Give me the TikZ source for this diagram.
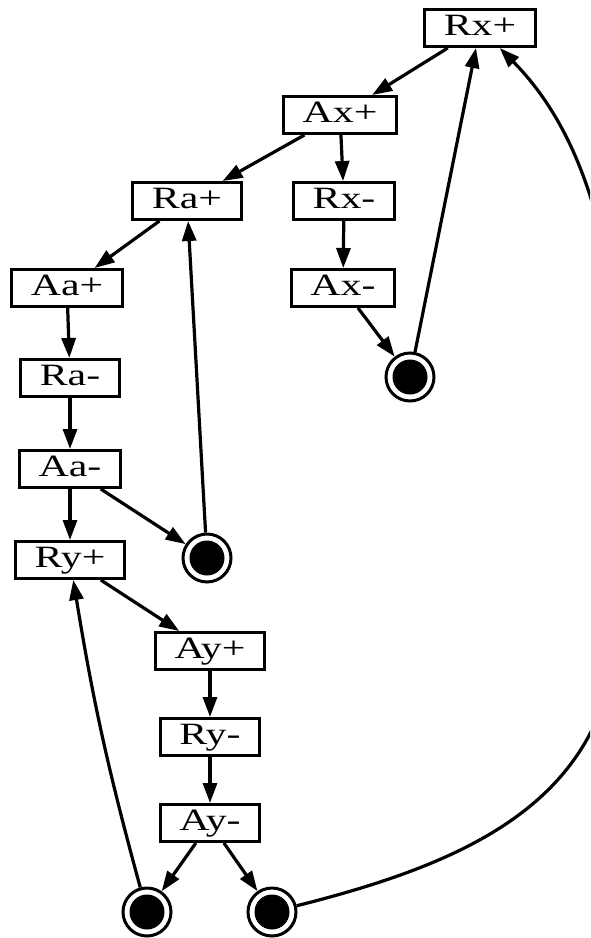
\documentclass[tikz,border=0pt]{standalone}
\usepackage{fontspec}
\newfontfamily\labfont[FakeStretch=1.35]{Liberation Serif}
\usetikzlibrary{arrows.meta}
\begin{document}
\begin{tikzpicture}[x=1pt,y=-1pt,
  state/.style={draw, rectangle, line width=3pt, minimum height=37pt,
    inner xsep=19pt, inner ysep=0pt, text height=20pt, text depth=6pt,
    font=\labfont\fontsize{31}{31}\selectfont},
  sink/.style={draw, circle, line width=3pt, minimum size=48pt, inner sep=0pt,
    path picture={\fill (path picture bounding box.center) circle (17.5pt);}},
  edge/.style={line width=3.2pt, -{Triangle[length=20pt,width=14pt]}}]
\useasboundingbox (0,0) rectangle (590,938);
\clip (0,0) rectangle (590,938);

% signal transitions
\node[state] (RxP) at (480,28)  {Rx+};
\node[state] (AxP) at (340,115) {Ax+};
\node[state] (RaP) at (187,201) {Ra+};
\node[state] (RxM) at (344,201) {Rx-};
\node[state] (AaP) at (67,288)  {Aa+};
\node[state] (AxM) at (343,288) {Ax-};
\node[state] (RaM) at (70,378)  {Ra-};
\node[state] (AaM) at (70,469)  {Aa-};
\node[state] (RyP) at (70,560)  {Ry+};
\node[state] (AyP) at (210,651) {Ay+};
\node[state] (RyM) at (210,737) {Ry-};
\node[state] (AyM) at (210,823) {Ay-};

% join points
\node[sink] (s1) at (410,377) {};
\node[sink] (s2) at (207,558) {};
\node[sink] (s3) at (147,912) {};
\node[sink] (s4) at (272,912) {};

% x handshake
\draw[edge] (RxP) -- (AxP);
\draw[edge] (AxP) -- (RxM);
\draw[edge] (RxM) -- (AxM);
\draw[edge] (AxM) -- (s1);
\draw[edge] (s1) -- (RxP);

% a handshake
\draw[edge] (AxP) -- (RaP);
\draw[edge] (RaP) -- (AaP);
\draw[edge] (AaP) -- (RaM);
\draw[edge] (RaM) -- (AaM);
\draw[edge] (AaM) -- (s2);
\draw[edge] (s2) -- (RaP);

% y handshake
\draw[edge] (AaM) -- (RyP);
\draw[edge] (RyP) -- (AyP);
\draw[edge] (AyP) -- (RyM);
\draw[edge] (RyM) -- (AyM);
\draw[edge] (AyM) -- (s3);
\draw[edge] (AyM) -- (s4);
\draw[edge] (s3) to[bend left=3] (RyP);

% long return to Rx+
\draw[edge] (s4) .. controls (470,862) and (612,800) .. (618,620)
  .. controls (624,440) and (640,190) .. (RxP);
\end{tikzpicture}
\end{document}
